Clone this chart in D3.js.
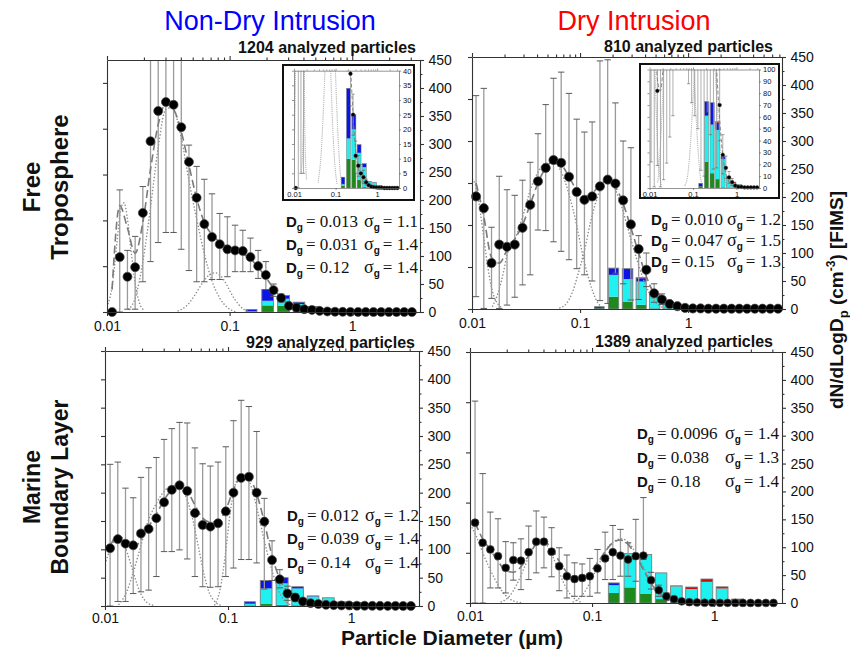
<!DOCTYPE html>
<html><head><meta charset="utf-8">
<script src="https://cdn.jsdelivr.net/npm/d3@7"></script>
<style>body{margin:0;background:#fff}svg{display:block}</style>
</head><body><svg id="c" width="850" height="651"></svg>
<script>
// ---------- data ----------
// FIMS size-bin midpoints (µm)
const diamA = [0.0110,0.0127,0.01468,0.01696,0.0196,0.02264,0.02616,0.03022,0.03491,0.04034,0.0466,0.05384,0.0622,0.07186,0.08302,0.09592,0.1108,0.128,0.1479,0.1709,0.1974,0.2281,0.2635,0.3044,0.3517,0.4063,0.4694,0.5423,0.6265,0.7238,0.8362,0.9661,1.116,1.289,1.490,1.721,1.988,2.297,2.654,3.066];
const diamTR = [0.0109,0.01286,0.01516,0.01788,0.02109,0.02487,0.02934,0.0346,0.0408,0.0481,0.0568,0.0669,0.0790,0.0931,0.1098,0.1295,0.1528,0.1802,0.2125,0.2506,0.2956,0.3486,0.4111,0.4849,0.5719,0.6745,0.7955,0.938,1.106,1.305,1.539,1.815,2.141,2.525,2.978,3.512,4.142,4.885,5.762,6.795];
const N = null;

// Free troposphere, non-dry intrusion
const tlVals = [0,98,63,80,177,305,359,375,370,330,268,204,157,134,121,112,110,109,98,82,66,39,25,11,7.6,5,3.7,2,1,0.5,0.3,0.2,0.1,0.1,0,0,0,0,0,0];
const tlLo = [0,0,5,5,54,90,124,142,142,112,74,54,54,58,58,63,72,72,72,60,40,28,18,5,4,2,1.5,1,0,0,0,0,0,0,0,0,0,0,0,0];
const tlHi = [0,218,110,135,224,470,470,470,470,470,298,260,237,211,176,170,155,146,132,110,90,50,32,16,11,8,6,3,0,0,0,0,0,0,0,0,0,0,0,0];
const tlFit = [40,190,150,105,160,255,335,372,362,322,262,203,160,138,125,116,110,104,95,80,62,42,25,13,7,4,2,1,0.5,N,N,N,N,N,N,N,N,N,N,N];
const tlMode1 = [[0.0102,15],[0.011,45],[0.012,120],[0.013,185],[0.0138,195],[0.0146,170],[0.0158,105],[0.017,50],[0.0185,15],[0.02,3]];
const tlMode2 = [[0.015,5],[0.017,25],[0.0196,90],[0.0226,185],[0.026,290],[0.0302,362],[0.034,365],[0.040,315],[0.047,230],[0.054,165],[0.062,105],[0.072,55],[0.083,25],[0.096,8],[0.11,1]];
const tlMode3 = [[0.038,2],[0.045,12],[0.052,30],[0.06,52],[0.068,66],[0.076,70],[0.085,64],[0.095,48],[0.105,30],[0.118,14],[0.13,5],[0.145,1]];
const tlGreen = [0.8,10,9.6,2.8,0.3,0,0,0,0,0];
const tlCyan  = [0.5,6.9,10.4,9.2,6.8,2.0,1.8,0.8,0.4,0.2];
const tlBlue  = [2.4,17.1,5,2.8,1.2,0.2,0.1,0.1,0,0];
const tlRed   = [0,0,0,0,0,0,0,0,0,0];
const tlParams = [["0.013","1.1"],["0.031","1.4"],["0.12","1.4"]];

// Free troposphere, dry intrusion
const trVals = [201,180,82,115,111,115,145,186,228,252,266,261,236,209,195,201,219,231,224,194,151,107,70,28,17,9,5,2,1,1,0.5,0.5,0.5,0.5,0.5,0.5,0.5,0.5,0.5,0.5];
const trLo = [22,1,19,1,7,21,43,61,141,140,120,103,88,72,61,50,15,10,64,45,16,17,40,12,8,4,2,0,0,0,0,0,0,0,0,0,0,0,0,0];
const trHi = [381,394,146,237,213,203,230,262,313,365,412,423,385,339,316,334,443,445,368,300,288,131,100,45,27,14,8,0,0,0,0,0,0,0,0,0,0,0,0,0];
const trFit = [225,165,92,82,105,125,150,187,225,252,264,258,236,212,200,206,222,230,218,188,145,100,58,27,12,5,2,1,N,N,N,N,N,N,N,N,N,N,N,N];
const trMode1 = [[0.0101,232],[0.011,215],[0.012,170],[0.013,120],[0.014,75],[0.015,42],[0.016,22],[0.0175,8],[0.019,2]];
const trMode2 = [[0.0155,5],[0.0175,30],[0.0195,65],[0.021,95],[0.025,125],[0.03,170],[0.035,215],[0.041,245],[0.048,260],[0.057,262],[0.067,245],[0.079,205],[0.093,150],[0.105,100],[0.12,55],[0.135,25],[0.15,8],[0.17,2]];
const trMode3 = [[0.065,2],[0.075,10],[0.085,30],[0.095,60],[0.11,105],[0.125,155],[0.145,200],[0.165,225],[0.185,230],[0.21,215],[0.245,180],[0.29,130],[0.34,85],[0.4,45],[0.47,18],[0.55,5],[0.65,1]];
const trGreen = [1.5,22,12.5,7.5,0.5,0,0,0,0,0];
const trCyan  = [0,39,41,41.5,24,8.5,4,3,1.5,1];
const trBlue  = [2.5,12,18.5,6,2,0,0,0,0,0];
const trRed   = [0,0,0,1,0,1,1,0,0,0];
const trParams = [["0.010","1.2"],["0.047","1.5"],["0.15","1.3"]];

// Marine boundary layer, non-dry intrusion
const blVals = [102,118,110,107,128,136,155,183,205,213,203,164,143,140,146,167,200,226,228,200,149,81,47,22,15,8,5,3.5,2,1.5,1,1,0.5,0.5,0.3,0.3,0.2,0.2,0.1,0.1];
const blLo = [0,8,8,22,25,28,52,96,96,99,83,52,34,33,34,52,67,82,82,76,30,45,32,10,8,0,0,0,0,0,0,0,0,0,0,0,0,0,0,0];
const blHi = [250,254,208,191,227,244,262,294,313,324,323,279,251,247,254,281,327,363,352,308,190,115,64,35,22,0,0,0,0,0,0,0,0,0,0,0,0,0,0,0];
const blFit = [105,125,114,100,118,140,162,187,205,212,203,178,155,148,150,170,205,228,226,198,148,88,48,24,12,6,3,1.5,N,N,N,N,N,N,N,N,N,N,N,N];
const blMode1 = [[0.0102,80],[0.011,100],[0.012,115],[0.013,117],[0.0145,105],[0.016,78],[0.0175,50],[0.0195,22],[0.022,6],[0.025,1]];
const blMode2 = [[0.013,3],[0.015,25],[0.017,60],[0.0195,105],[0.022,145],[0.026,180],[0.031,205],[0.036,213],[0.041,208],[0.046,190],[0.052,150],[0.058,100],[0.064,55],[0.07,25],[0.078,8],[0.088,1]];
const blMode3 = [[0.078,2],[0.086,28],[0.095,90],[0.105,170],[0.115,215],[0.128,232],[0.14,230],[0.155,210],[0.175,165],[0.2,110],[0.23,60],[0.26,25],[0.3,6],[0.34,1]];
const blGreen = [0.5,3.5,2,1,0,0,0,0,0,0];
const blCyan  = [3.5,27.5,38,30,17,14.5,7.5,6,4,2];
const blBlue  = [3.5,14,10,3,0.8,0,0,0,0,0];
const blRed   = [0,0,0,0,0,0,0,0,0,0];
const blParams = [["0.012","1.2"],["0.039","1.4"],["0.14","1.4"]];

// Marine boundary layer, dry intrusion
const brVals = [144,108,96,84,63,77,76,91,110,110,92,66,48,43,45,48,62,80,91,85,78,84,85,41,23,12,7,3,1.5,1,0.5,0.5,0.3,0.3,0.2,0.2,0.1,0.1,0.1,0.1];
const brLo = [0,0,27,27,18,41,24,42,54,63,47,22,9,12,12,12,18,42,42,48,48,39,78,25,12,5,2,0,0,0,0,0,0,0,0,0,0,0,0,0];
const brHi = [362,232,163,151,110,108,115,138,165,154,135,99,86,72,70,80,96,127,139,132,108,150,189,55,32,18,10,0,0,0,0,0,0,0,0,0,0,0,0,0];
const brFit = [144,115,95,75,58,55,65,85,105,110,98,75,55,45,46,55,72,92,108,113,105,85,60,35,18,9,4,2,N,N,N,N,N,N,N,N,N,N,N,N];
const brMode1 = [[0.0101,140],[0.0115,115],[0.013,85],[0.015,55],[0.017,32],[0.0195,14],[0.022,5],[0.026,1]];
const brMode2 = [[0.018,2],[0.021,12],[0.024,32],[0.028,65],[0.032,95],[0.037,110],[0.042,105],[0.048,82],[0.055,50],[0.062,25],[0.07,10],[0.08,2]];
const brMode3 = [[0.07,2],[0.08,10],[0.09,25],[0.1,45],[0.115,72],[0.13,95],[0.15,110],[0.175,115],[0.2,108],[0.23,88],[0.27,60],[0.31,35],[0.36,15],[0.42,5],[0.5,1]];
const brGreen = [18,28,17,7,0,0,0,0,0,0];
const brCyan  = [14,60.6,70,47,30,25,38,26,4.6,0.5];
const brBlue  = [4,0,0,0,0,0,0,0,0,0];
const brRed   = [0,0,0,0,0.8,3.6,5,3,2.4,0];
const brParams = [["0.0096","1.4"],["0.038","1.3"],["0.18","1.4"]];

// single-particle histogram bins (µm)
const binLo = [0.136,0.183,0.246,0.33,0.44,0.585,0.78,1.04,1.39,1.85];
const binHi = [0.167,0.228,0.308,0.41,0.548,0.73,0.975,1.30,1.74,2.3];

const counts = ["1204","810","929","1389"];
const columnTitles = ["Non-Dry Intrusion","Dry Intrusion"];
const xMajor = [0.01,0.1,1];
const xTickLabels = ["0.01","0.1","1"];
const mainYTicks = [0,50,100,150,200,250,300,350,400,450];
const mainYMinor = [25,75,125,175,225,275,325,375,425];
const tlInsetTicks = [0,5,10,15,20,25,30,35,40];
const trInsetTicks = [0,10,20,30,40,50,60,70,80,90,100];

// ---------- layout & style ----------
const SANS = "Arial, 'Liberation Sans', Helvetica, sans-serif";
const SERIF = "'Times New Roman', 'Liberation Serif', serif";
const COL = {green:"#1d8a1d", cyan:"#1ff1f1", blue:"#0a14e6", red:"#c40a0a"};

const panels = [
  {id:"tl", d:diamA, vals:tlVals, lo:tlLo, hi:tlHi, fit:tlFit, modes:[tlMode1,tlMode2,tlMode3],
   segs:[tlGreen,tlCyan,tlBlue,tlRed], params:tlParams, count:counts[0],
   L:{x0:107,x1:420,y0:60,y1:312,xMax:3.57,barMax:380,leftMax:5.5,r:4.5,pad:5,countX:416,countY:53,dX:286,sX:364,rows:[226.5,249.5,272.5]},
   inset:{fx0:283,fx1:414,fy0:65,fy1:200,x0:294,x1:399,y0:70.7,y1:188,xMax:3.35,yMax:40,ticks:tlInsetTicks}},
  {id:"tr", d:diamTR, vals:trVals, lo:trLo, hi:trHi, fit:trFit, modes:[trMode1,trMode2,trMode3],
   segs:[trGreen,trCyan,trBlue,trRed], params:trParams, count:counts[1],
   L:{x0:472,x1:782,y0:57,y1:309,xMax:7.4,barMax:450,leftMax:6,r:4.6,pad:5,countX:773,countY:51.5,dX:651,sX:727,rows:[225,246,267]},
   inset:{fx0:640,fx1:779,fy0:64,fy1:198,x0:649.5,x1:759,y0:69.5,y1:188,xMax:3.3,yMax:100,ticks:trInsetTicks}},
  {id:"bl", d:diamA, vals:blVals, lo:blLo, hi:blHi, fit:blFit, modes:[blMode1,blMode2,blMode3],
   segs:[blGreen,blCyan,blBlue,blRed], params:blParams, count:counts[2],
   L:{x0:105,x1:419,y0:351,y1:606,xMax:3.57,barMax:450,leftMax:9,r:4.5,pad:3,countX:415,countY:347.5,dX:287,sX:365,rows:[520.5,544,568]}},
  {id:"br", d:diamA, vals:brVals, lo:brLo, hi:brHi, fit:brFit, modes:[brMode1,brMode2,brMode3],
   segs:[brGreen,brCyan,brBlue,brRed], params:brParams, count:counts[3],
   L:{x0:470,x1:782,y0:352,y1:603,xMax:3.6,barMax:450,leftMax:5,r:3.9,pad:4.5,countX:773,countY:347,dX:637,sX:725,rows:[439,462.5,486.5]}}
];

const svg = d3.select("#c");
const defs = svg.append("defs");
const segColors = [COL.green, COL.cyan, COL.blue, COL.red];

function addClip(id, x0, y0, x1, y1) {
  defs.append("clipPath").attr("id", id).append("rect")
    .attr("x", x0).attr("y", y0).attr("width", x1 - x0).attr("height", y1 - y0);
}

// bars, fitted modes, error bars, points and the overall fit
function drawContent(g, p, x, y, yb, box, st) {
  const clipA = p.id + st.tag + "A", clipB = p.id + st.tag + "B";
  addClip(clipA, box.x0, box.y0, box.x1, box.y1);
  addClip(clipB, box.x0 - 6, box.y0, box.x1 + 6, box.y1 + 6);
  const cg = g.append("g").attr("clip-path", `url(#${clipA})`);

  binLo.forEach((lo, i) => {
    let cum = 0;
    p.segs.forEach((arr, k) => {
      const v = arr[i];
      if (v > 0) {
        cg.append("rect").attr("x", x(lo)).attr("width", x(binHi[i]) - x(lo))
          .attr("y", yb(cum + v)).attr("height", yb(cum) - yb(cum + v)).attr("fill", segColors[k]);
      }
      cum += v;
    });
    if (cum > 0) {
      cg.append("rect").attr("x", x(lo)).attr("width", x(binHi[i]) - x(lo))
        .attr("y", yb(cum)).attr("height", yb(0) - yb(cum))
        .attr("fill", "none").attr("stroke", "#7d7d7d").attr("stroke-width", st.barW);
    }
  });

  const mline = d3.line().x(d => x(d[0])).y(d => y(d[1])).curve(d3.curveMonotoneX);
  p.modes.forEach(m => cg.append("path").attr("d", mline(m)).attr("fill", "none")
    .attr("stroke", "#8c8c8c").attr("stroke-width", st.modeW)
    .attr("stroke-dasharray", st.modeDash).attr("stroke-linecap", "round"));

  p.d.forEach((D, i) => {
    if (p.hi[i] > p.lo[i]) {
      const cx = x(D);
      cg.append("line").attr("x1", cx).attr("x2", cx).attr("y1", y(p.lo[i])).attr("y2", y(p.hi[i]))
        .attr("stroke", "#9a9a9a").attr("stroke-width", st.errW);
      [p.lo[i], p.hi[i]].forEach(v => cg.append("line")
        .attr("x1", cx - st.cap).attr("x2", cx + st.cap).attr("y1", y(v)).attr("y2", y(v))
        .attr("stroke", "#5a5a5a").attr("stroke-width", st.capW));
    }
  });

  const pg = g.append("g").attr("clip-path", `url(#${clipB})`);
  p.d.forEach((D, i) => {
    if (D <= x.domain()[1]) {
      pg.append("circle").attr("cx", x(D)).attr("cy", y(p.vals[i])).attr("r", st.r)
        .attr("fill", "#000").attr("stroke", "#4a4a4a").attr("stroke-width", st.ptW);
    }
  });

  const fl = d3.line().defined(d => d[1] != null).x(d => x(d[0])).y(d => y(d[1])).curve(d3.curveMonotoneX);
  cg.append("path").attr("d", fl(p.d.map((D, i) => [D, p.fit[i]]))).attr("fill", "none")
    .attr("stroke", "#7a7a7a").attr("stroke-width", st.fitW).attr("stroke-dasharray", st.fitDash);
}

function isMajor(d) { const l = Math.log10(d); return Math.abs(l - Math.round(l)) < 1e-6; }

function drawAxes(g, x, y, yl, leftTicks, box, st) {
  g.append("g").attr("transform", `translate(0,${box.y1})`)
    .call(d3.axisBottom(x).tickValues(xMajor).tickFormat((d, i) => xTickLabels[i])
      .tickSizeInner(st.tick).tickSizeOuter(0).tickPadding(st.pad));
  const gt = g.append("g").attr("transform", `translate(0,${box.y0})`)
    .call(d3.axisTop(x).tickValues(x.ticks()).tickFormat("").tickSizeInner(st.tick).tickSizeOuter(0));
  gt.selectAll(".tick line").attr("y2", d => isMajor(d) ? -st.tick : -st.minor);
  g.append("g").attr("transform", `translate(${box.x1},0)`)
    .call(d3.axisRight(y).tickValues(st.yTicks).tickSizeInner(st.tick).tickSizeOuter(0).tickPadding(st.padR));
  if (st.yMinor) {
    g.append("g").attr("transform", `translate(${box.x1},0)`)
      .call(d3.axisRight(y).tickValues(st.yMinor).tickFormat("").tickSizeInner(st.minor).tickSizeOuter(0))
      .select(".domain").remove();
  }
  g.append("g").attr("transform", `translate(${box.x0},0)`)
    .call(d3.axisLeft(yl).tickValues(leftTicks).tickFormat("").tickSizeInner(st.tick).tickSizeOuter(0));
  g.selectAll(".domain, .tick line").attr("stroke", st.col).attr("stroke-width", st.w);
  g.selectAll(".tick text").attr("font-family", SANS).attr("font-size", st.fs).attr("fill", "#111");
}

function paramRow(g, L, yb, dg, sg) {
  const t = g.append("text").attr("x", L.dX).attr("y", yb).attr("fill", "#111");
  t.append("tspan").attr("font-family", SANS).attr("font-weight", "bold").attr("font-size", 15).text("D");
  t.append("tspan").attr("font-family", SANS).attr("font-weight", "bold").attr("font-size", 10).attr("dy", 4).text("g");
  t.append("tspan").attr("font-family", SERIF).attr("font-size", 17).attr("dy", -4).attr("dx", 3).text("= " + dg);
  t.append("tspan").attr("x", L.sX).attr("font-family", SERIF).attr("font-size", 18).text("\u03c3");
  t.append("tspan").attr("font-family", SANS).attr("font-weight", "bold").attr("font-size", 10).attr("dy", 4).text("g");
  t.append("tspan").attr("font-family", SERIF).attr("font-size", 17).attr("dy", -4).attr("dx", 3).text("= " + sg);
}

panels.forEach(p => {
  const L = p.L;
  const g = svg.append("g");
  const x = d3.scaleLog().domain([0.01, L.xMax]).range([L.x0, L.x1]);
  const y = d3.scaleLinear().domain([0, 450]).range([L.y1, L.y0]);
  const yb = d3.scaleLinear().domain([0, L.barMax]).range([L.y1, L.y0]);
  const yl = d3.scaleLinear().domain([0, L.leftMax]).range([L.y1, L.y0]);
  const box = {x0: L.x0, x1: L.x1, y0: L.y0, y1: L.y1};

  drawContent(g, p, x, y, yb, box, {tag: "m", r: L.r, ptW: 0.7, errW: 1.3, cap: 3.2, capW: 1,
    barW: 0.9, modeW: 1.5, modeDash: "0.1,3.2", fitW: 1.6, fitDash: "8,4"});
  drawAxes(g.append("g"), x, y, yl, d3.range(0, Math.floor(L.leftMax) + 1), box,
    {tick: 4, minor: 2.5, pad: L.pad, padR: 4.5, col: "#333", w: 1.1, fs: 14, yTicks: mainYTicks, yMinor: mainYMinor});

  if (p.inset) {
    const I = p.inset;
    const ig = svg.append("g");
    ig.append("rect").attr("x", I.fx0).attr("y", I.fy0).attr("width", I.fx1 - I.fx0).attr("height", I.fy1 - I.fy0)
      .attr("fill", "#fff").attr("stroke", "#111").attr("stroke-width", 2);
    const xi = d3.scaleLog().domain([0.01, I.xMax]).range([I.x0, I.x1]);
    const yi = d3.scaleLinear().domain([0, I.yMax]).range([I.y1, I.y0]);
    const ibox = {x0: I.x0, x1: I.x1, y0: I.y0, y1: I.y1};
    drawContent(ig, p, xi, yi, yi, ibox, {tag: "i", r: 1.9, ptW: 0.4, errW: 0.8, cap: 1.6, capW: 0.6,
      barW: 0.5, modeW: 0.9, modeDash: "0.1,1.8", fitW: 0.9, fitDash: "4,2"});
    drawAxes(ig.append("g"), xi, yi, yi, I.ticks, ibox,
      {tick: 2, minor: 1.2, pad: 2, padR: 2, col: "#666", w: 0.7, fs: 7.5, yTicks: I.ticks, yMinor: null});
  }

  svg.append("text").attr("x", L.countX).attr("y", L.countY).attr("text-anchor", "end")
    .attr("font-family", SANS).attr("font-weight", "bold").attr("font-size", 16).attr("fill", "#111")
    .text(p.count + " analyzed particles");

  p.params.forEach((pr, i) => paramRow(svg, L, L.rows[i], pr[0], pr[1]));
});

// column titles
svg.append("text").attr("x", 270).attr("y", 29.5).attr("text-anchor", "middle")
  .attr("font-family", SANS).attr("font-size", 27).attr("fill", "#0000ff").text(columnTitles[0]);
svg.append("text").attr("x", 634).attr("y", 29.5).attr("text-anchor", "middle")
  .attr("font-family", SANS).attr("font-size", 27).attr("fill", "#ff0000").text(columnTitles[1]);

// row titles
function rowTitle(cy, lines, fs) {
  [40, 68].forEach((bx, i) => svg.append("text").attr("transform", `translate(${bx},${cy}) rotate(-90)`)
    .attr("text-anchor", "middle").attr("font-family", SANS).attr("font-weight", "bold")
    .attr("font-size", fs).attr("fill", "#111").text(lines[i]));
}
rowTitle(187, ["Free", "Troposphere"], 24);
rowTitle(487, ["Marine", "Boundary Layer"], 23);

// shared axis titles
svg.append("text").attr("x", 452).attr("y", 645).attr("text-anchor", "middle")
  .attr("font-family", SANS).attr("font-weight", "bold").attr("font-size", 21).attr("fill", "#111")
  .text("Particle Diameter (\u00b5m)");

const yt = svg.append("text").attr("transform", "translate(843,300) rotate(-90)").attr("text-anchor", "middle")
  .attr("font-family", SANS).attr("font-weight", "bold").attr("font-size", 19).attr("fill", "#111");
yt.append("tspan").text("dN/dLogD");
yt.append("tspan").attr("font-size", 13).attr("dy", 5).text("p");
yt.append("tspan").attr("dy", -5).text(" (cm");
yt.append("tspan").attr("font-size", 12).attr("dy", -8).text("-3");
yt.append("tspan").attr("dy", 8).text(") [FIMS]");
</script></body></html>
